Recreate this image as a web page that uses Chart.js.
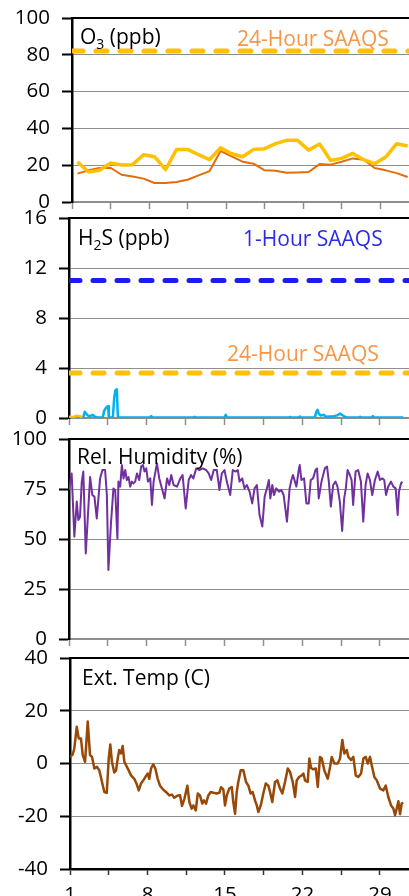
<!DOCTYPE html>
<html>
<head>
<meta charset="utf-8">
<script src="https://cdn.jsdelivr.net/npm/chart.js@4/dist/chart.umd.min.js"></script>
<style>
  html, body { margin: 0; padding: 0; background: #fff; overflow: hidden; }
  body { width: 409px; height: 896px; position: relative; font-family: 'Open Sans', sans-serif; }
  canvas { position: absolute; left: 0; }
  .lbl { position: absolute; font-size: 21px; line-height: 21px; white-space: nowrap; color: #000; }
  .lbl sub { font-size: 14px; vertical-align: -5px; line-height: 0; }
</style>
</head>
<body>
<canvas id="o3" width="409" height="214" style="top:0px;width:409px;height:214px"></canvas>
<canvas id="h2s" width="409" height="225" style="top:205px;width:409px;height:225px"></canvas>
<canvas id="rh" width="409" height="226" style="top:425px;width:409px;height:226px"></canvas>
<canvas id="temp" width="409" height="264" style="top:645px;width:409px;height:264px"></canvas>

<div class="lbl" style="left:80px;top:25.5px">O<sub>3</sub> (ppb)</div>
<div class="lbl" style="left:237px;top:28px;color:#F79646">24-Hour SAAQS</div>
<div class="lbl" style="left:78px;top:227px">H<sub>2</sub>S (ppb)</div>
<div class="lbl" style="left:243px;top:228px;color:#2B2BE8">1-Hour SAAQS</div>
<div class="lbl" style="left:227px;top:343px;color:#F79646">24-Hour SAAQS</div>
<div class="lbl" style="left:77px;top:445.5px">Rel. Humidity (%)</div>
<div class="lbl" style="left:82px;top:667px">Ext. Temp (C)</div>

<script>
// days of the month on the shared x axis
const dayMin = 1;
const dayMax = 31.62;
const dayTicks = [1, 4.5, 8, 11.5, 15, 18.5, 22, 25.5, 29];

// O3 daily values (ppb)
const o3Days = [1.5, 2.5, 3.5, 4.5, 5.5, 6.5, 7.5, 8.5, 9.5, 10.5, 11.5, 12.5, 13.5, 14.5, 15.5, 16.5,
  17.5, 18.5, 19.5, 20.5, 21.5, 22.5, 23.5, 24.5, 25.5, 26.5, 27.5, 28.5, 29.5, 30.5, 31.5];
const o3Upper = [21.7, 16.3, 17.2, 21.2, 20.1, 20.3, 25.7, 24.6, 17.6, 28.6, 28.6, 25.7, 23.0, 29.5, 26.2, 24.6,
  28.6, 29.0, 31.7, 33.5, 33.5, 28.2, 31.5, 22.6, 23.7, 26.4, 23.0, 20.8, 24.4, 31.7, 30.4];
const o3Lower = [15.4, 17.2, 18.5, 18.6, 14.8, 13.9, 12.7, 10.3, 10.3, 10.9, 12.1, 14.5, 16.8, 27.7, 24.8, 21.9,
  20.8, 17.2, 17.0, 15.9, 16.1, 16.3, 20.6, 20.3, 21.9, 23.7, 23.0, 18.5, 17.2, 15.7, 13.6];
const o3Limit24h = 82;

// H2S (ppb)
const h2sDays = [1.0, 2.29, 2.42, 2.54, 2.69, 2.90, 3.14, 3.32, 3.59, 4.04, 4.16, 4.28, 4.41, 4.52, 4.59, 4.95,
  5.07, 5.18, 5.31, 5.40, 8.3, 8.41, 8.5, 12.22, 12.32, 12.42, 15.02, 15.12, 15.22, 20.8, 20.9, 21.0,
  21.7, 21.8, 21.9, 23.15, 23.25, 23.38, 23.49, 23.67, 23.92, 24.15, 24.82, 25.12, 25.42, 25.66, 25.87, 26.0,
  27.12, 27.22, 27.32, 28.27, 28.37, 28.47, 30.84, 31.1];
const h2sValues = [0.05, 0.05, 0.5, 0.35, 0.2, 0.15, 0.25, 0.1, 0.05, 0.05, 0.55, 0.75, 0.9, 0.95, 0.05, 0.05,
  1.6, 2.2, 2.3, 0.05, 0.05, 0.15, 0.05, 0.05, 0.1, 0.05, 0.05, 0.25, 0.05, 0.05, 0.08, 0.05,
  0.05, 0.12, 0.05, 0.05, 0.45, 0.65, 0.35, 0.2, 0.25, 0.1, 0.15, 0.2, 0.35, 0.2, 0.1, 0.05,
  0.05, 0.1, 0.05, 0.05, 0.15, 0.05, 0.05, 0.05];
const h2sDailyDays = [1.0, 1.2, 1.45, 1.7, 1.95, 2.2];
const h2sDailyValues = [0.1, 0.08, 0.1, 0.18, 0.15, 0.08];
const h2sLimit1h = 11;
const h2sLimit24h = 3.6;

// relative humidity (%)
const rhDays = [
  1.00, 1.24, 1.48, 1.70, 1.84, 1.99, 2.15, 2.29, 2.51, 2.74,
  2.90, 3.10, 3.29, 3.50, 3.80, 4.01, 4.25, 4.41, 4.55, 4.77,
  5.00, 5.16, 5.36, 5.45, 5.61, 5.76, 5.91, 6.06, 6.21, 6.36,
  6.51, 6.66, 6.81, 6.96, 7.12, 7.32, 7.50, 7.66, 7.80, 7.96,
  8.11, 8.32, 8.47, 8.62, 8.92, 9.13, 9.37, 9.61, 9.83, 10.03,
  10.21, 10.42, 10.73, 11.03, 11.23, 11.51, 11.78, 11.99, 12.20, 12.45,
  12.74, 13.04, 13.35, 13.58, 13.80, 14.04, 14.31, 14.55, 14.76, 15.00,
  15.21, 15.52, 15.75, 16.00, 16.20, 16.36, 16.60, 16.81, 17.02, 17.26,
  17.50, 17.71, 17.92, 18.16, 18.41, 18.62, 18.82, 19.00, 19.13, 19.31,
  19.46, 19.67, 19.91, 20.12, 20.33, 20.63, 20.87, 21.03, 21.17, 21.48,
  21.69, 21.78, 21.93, 22.17, 22.38, 22.59, 22.77, 22.98, 23.20, 23.34,
  23.49, 23.74, 24.04, 24.24, 24.40, 24.58, 24.79, 25.00, 25.18, 25.39,
  25.60, 25.78, 25.93, 26.09, 26.29, 26.45, 26.59, 26.81, 27.04, 27.29,
  27.50, 27.71, 27.89, 28.10, 28.31, 28.55, 28.80, 29.00, 29.21, 29.39,
  29.55, 29.75, 30.00, 30.21, 30.42, 30.60, 30.72, 30.90, 31.02];
const rhValues = [
  74.5, 82.8, 51.2, 68.7, 59.5, 61.0, 78.7, 83.7, 42.8, 65.3,
  81.0, 72.0, 71.2, 60.3, 80.3, 84.5, 84.5, 72.0, 34.5, 57.0,
  75.3, 74.5, 50.3, 78.7, 76.2, 87.0, 80.3, 84.5, 79.5, 81.0,
  76.2, 78.7, 77.8, 78.7, 82.8, 79.5, 86.2, 87.0, 83.7, 85.3,
  78.7, 80.3, 67.0, 78.7, 87.8, 80.3, 75.3, 70.3, 80.3, 77.0,
  82.0, 77.0, 76.2, 80.3, 82.0, 65.3, 79.5, 82.0, 80.3, 85.3,
  84.5, 85.3, 84.5, 82.8, 79.5, 84.5, 84.5, 74.5, 82.8, 84.5,
  78.7, 72.0, 84.5, 83.7, 84.5, 78.7, 80.3, 75.3, 77.0, 73.7,
  67.8, 75.3, 77.0, 62.0, 56.2, 71.2, 75.3, 79.5, 70.3, 77.0,
  72.0, 75.3, 73.7, 74.5, 72.0, 58.7, 75.3, 79.5, 82.0, 76.2,
  84.5, 87.0, 79.5, 80.3, 67.8, 67.8, 79.5, 80.3, 84.5, 85.3,
  70.3, 78.7, 85.3, 86.2, 78.7, 66.2, 77.0, 78.7, 76.2, 68.7,
  54.0, 70.3, 75.3, 84.5, 82.0, 79.5, 67.0, 83.7, 84.5, 78.7,
  58.7, 77.0, 82.8, 79.5, 72.0, 79.5, 83.7, 79.5, 80.3, 79.5,
  72.0, 76.2, 78.7, 76.2, 75.3, 62.0, 73.7, 77.8, 78.7];

// external temperature (C)
const tempDays = [
  1.00, 1.24, 1.39, 1.61, 1.79, 1.99, 2.15, 2.36, 2.60, 2.81,
  2.99, 3.20, 3.44, 3.65, 3.89, 4.10, 4.32, 4.50, 4.64, 4.79,
  5.00, 5.16, 5.31, 5.45, 5.61, 5.76, 5.91, 6.06, 6.30, 6.51,
  6.81, 7.03, 7.21, 7.41, 7.62, 7.87, 8.02, 8.16, 8.32, 8.52,
  8.71, 8.92, 9.13, 9.37, 9.67, 9.97, 10.21, 10.42, 10.73, 10.94,
  11.12, 11.34, 11.60, 11.78, 11.99, 12.14, 12.36, 12.54, 12.74, 12.95,
  13.10, 13.29, 13.49, 13.71, 13.95, 14.25, 14.49, 14.64, 14.85, 15.00,
  15.16, 15.39, 15.61, 15.75, 15.91, 16.06, 16.20, 16.42, 16.66, 16.90,
  17.11, 17.32, 17.50, 17.71, 17.87, 18.01, 18.23, 18.46, 18.68, 18.91,
  19.07, 19.27, 19.52, 19.73, 19.97, 20.18, 20.42, 20.67, 20.87, 21.12,
  21.33, 21.48, 21.69, 21.93, 22.08, 22.23, 22.47, 22.62, 22.77, 22.98,
  23.20, 23.38, 23.58, 23.74, 23.97, 24.28, 24.49, 24.64, 24.88, 25.18,
  25.39, 25.60, 25.78, 26.00, 26.14, 26.38, 26.59, 26.81, 27.04, 27.29,
  27.50, 27.71, 27.89, 28.10, 28.25, 28.49, 28.71, 29.00, 29.30, 29.52,
  29.75, 30.00, 30.21, 30.36, 30.51, 30.66, 30.81, 30.96, 31.08];
const tempValues = [
  2.5, 3.4, 5.7, 13.9, 9.5, 9.5, 3.2, 0.6, 15.9, 3.2,
  2.5, -1.9, -1.3, -2.6, -7.0, -10.8, -11.1, 1.9, 7.2, 0.6,
  -3.4, -2.6, 1.9, 5.1, 3.8, 6.6, 0.6, -0.6, -2.6, -4.5,
  -5.8, -7.9, -10.2, -7.6, -6.4, -4.7, -3.8, -5.8, -1.9, -0.3,
  -1.9, -5.8, -8.4, -9.7, -10.8, -12.1, -11.8, -13.0, -12.1, -12.0,
  -16.1, -13.3, -8.4, -14.6, -17.1, -15.9, -17.8, -11.4, -12.1, -15.2,
  -14.0, -15.2, -12.1, -10.8, -11.1, -11.4, -11.1, -9.0, -9.8, -15.9,
  -12.1, -9.5, -8.9, -14.6, -19.1, -10.8, -7.0, -2.6, -2.6, -7.0,
  -8.4, -11.4, -10.8, -14.0, -15.9, -18.4, -15.9, -11.4, -7.6, -8.4,
  -10.8, -14.6, -7.0, -6.4, -9.5, -11.4, -7.0, -1.9, -3.2, -7.0,
  -12.7, -6.4, -5.1, -4.5, -3.8, -6.4, -7.0, 1.9, -1.7, -2.2,
  -1.9, -8.9, 2.5, 1.9, -2.6, -5.8, -1.3, 2.5, 0.0, 0.0,
  1.9, 8.9, 3.8, 5.1, 2.5, 1.3, 2.5, -4.5, -5.1, -3.8,
  1.9, 2.5, 0.0, 2.5, -0.6, -5.1, -6.4, -9.5, -10.2, -8.4,
  -12.7, -15.9, -17.1, -19.6, -17.1, -14.3, -19.2, -15.2, -14.8];

Chart.defaults.font.family = "'Open Sans', sans-serif";
Chart.defaults.color = '#000';

function pts(xs, ys) {
  return xs.map((x, i) => ({ x: x, y: ys[i] }));
}

function limitLine(value, color) {
  return {
    data: [{ x: dayMin, y: value }, { x: dayMax, y: value }],
    borderColor: color, borderWidth: 5, borderDash: [11, 13], borderCapStyle: 'round',
    pointRadius: 0
  };
}

function series(xs, ys, color, width) {
  return { data: pts(xs, ys), borderColor: color, borderWidth: width, pointRadius: 0, tension: 0,
    borderJoinStyle: 'round' };
}

// black frame line along the top of each plot area
const topBorder = {
  id: 'topBorder',
  afterDraw(chart) {
    const a = chart.chartArea, ctx = chart.ctx;
    ctx.save();
    ctx.strokeStyle = '#000';
    ctx.lineWidth = 2;
    ctx.beginPath();
    ctx.moveTo(a.left - 1, a.top);
    ctx.lineTo(a.right, a.top);
    ctx.stroke();
    ctx.restore();
  }
};

function makePanel(id, datasets, cfg) {
  new Chart(document.getElementById(id), {
    type: 'line',
    data: { datasets: datasets },
    plugins: [topBorder],
    options: {
      responsive: false,
      animation: false,
      events: [],
      layout: { autoPadding: false, padding: { top: cfg.padTop, right: 0, left: 0, bottom: 0 } },
      plugins: { legend: { display: false }, tooltip: { enabled: false } },
      scales: {
        x: {
          type: 'linear', min: dayMin, max: dayMax,
          afterBuildTicks: s => { s.ticks = dayTicks.map(v => ({ value: v })); },
          afterFit: s => { s.height = cfg.xHeight; s.paddingLeft = 0; s.paddingRight = 0; },
          grid: { drawOnChartArea: false, tickLength: cfg.xTickLen, tickColor: cfg.xTickColor, tickWidth: 1.5 },
          border: { color: cfg.xAxisColor, width: cfg.xAxisWidth },
          ticks: {
            display: cfg.showDays, autoSkip: false, maxRotation: 0, padding: 8,
            font: { size: 20.5 },
            callback: v => Number.isInteger(v) ? String(v) : ''
          }
        },
        y: {
          min: cfg.yMin, max: cfg.yMax,
          afterBuildTicks: s => { s.ticks = cfg.yTicks.map(v => ({ value: v })); },
          afterFit: s => { s.width = cfg.left; s.paddingTop = 0; s.paddingBottom = 0; },
          grid: { color: '#8e8e8e', lineWidth: 1, tickLength: 10, tickColor: '#000', tickWidth: 2 },
          border: { color: '#000', width: 2.5 },
          ticks: { padding: 12, font: { size: 20.5 } }
        }
      }
    }
  });
}

makePanel('o3', [
  series(o3Days, o3Upper, '#FFC000', 3.5),
  series(o3Days, o3Lower, '#E46C0A', 2),
  limitLine(o3Limit24h, '#FFC000')
], { left: 72, padTop: 18, xHeight: 12, xTickLen: 7, xTickColor: '#8e8e8e', xAxisColor: '#8e8e8e', xAxisWidth: 1.5,
     showDays: false, yMin: 0, yMax: 100, yTicks: [0, 20, 40, 60, 80, 100] });

makePanel('h2s', [
  series(h2sDailyDays, h2sDailyValues, '#FFC000', 2.5),
  series(h2sDays, h2sValues, '#00B0F0', 2.5),
  limitLine(h2sLimit1h, '#1C1CF0'),
  limitLine(h2sLimit24h, '#FFC000')
], { left: 69, padTop: 13, xHeight: 12, xTickLen: 7, xTickColor: '#8e8e8e', xAxisColor: '#8e8e8e', xAxisWidth: 1.5,
     showDays: false, yMin: 0, yMax: 16, yTicks: [0, 4, 8, 12, 16] });

makePanel('rh', [
  series(rhDays, rhValues, '#7030A0', 2)
], { left: 69, padTop: 14, xHeight: 12, xTickLen: 7, xTickColor: '#8e8e8e', xAxisColor: '#8e8e8e', xAxisWidth: 1.5,
     showDays: false, yMin: 0, yMax: 100, yTicks: [0, 25, 50, 75, 100] });

makePanel('temp', [
  series(tempDays, tempValues, '#984807', 2.5)
], { left: 70, padTop: 13, xHeight: 40, xTickLen: 6, xTickColor: '#333', xAxisColor: '#000', xAxisWidth: 2.5,
     showDays: true, yMin: -40, yMax: 40, yTicks: [-40, -20, 0, 20, 40] });
</script>
</body>
</html>
